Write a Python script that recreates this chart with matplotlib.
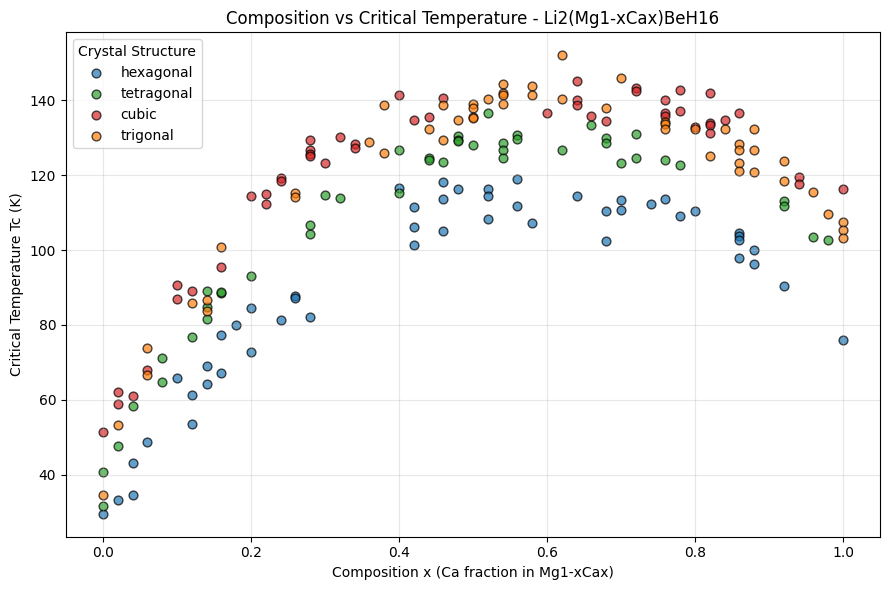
import matplotlib
matplotlib.use("Agg")
import matplotlib.pyplot as plt

hex_x = [0, 0.02, 0.04, 0.04, 0.06, 0.10, 0.12, 0.12, 0.14, 0.14, 0.16, 0.16, 0.18, 0.20, 0.20, 0.24, 0.26, 0.26, 0.28,
         0.40, 0.42, 0.42, 0.42, 0.46, 0.46, 0.46, 0.48, 0.52, 0.52, 0.52, 0.56, 0.56, 0.58, 0.64, 0.68, 0.68, 0.70, 0.70,
         0.74, 0.76, 0.78, 0.80, 0.86, 0.86, 0.86, 0.86, 0.88, 0.88, 0.92, 1.0]
hex_y = [29.6, 33.3, 34.7, 43.2, 48.8, 65.8, 53.6, 61.3, 64.3, 69.1, 67.1, 77.2, 79.9, 72.7, 84.4, 81.2, 87.7, 87.1, 82.0,
         116.5, 111.5, 106.1, 101.3, 118.1, 113.6, 105.1, 116.4, 116.2, 114.4, 108.2, 118.9, 111.7, 107.2, 114.4, 110.4, 102.4, 113.3, 110.8,
         112.4, 113.6, 109.1, 110.3, 104.6, 103.7, 102.8, 98.0, 99.9, 96.3, 90.4, 76.0]

tet_x = [0, 0, 0.02, 0.04, 0.08, 0.08, 0.12, 0.14, 0.14, 0.14, 0.16, 0.16, 0.20, 0.28, 0.28, 0.30, 0.32, 0.40, 0.40,
         0.44, 0.44, 0.46, 0.48, 0.48, 0.48, 0.50, 0.52, 0.54, 0.54, 0.54, 0.56, 0.56, 0.62, 0.66, 0.68, 0.68, 0.70,
         0.72, 0.72, 0.76, 0.78, 0.92, 0.92, 0.96, 0.98]
tet_y = [31.7, 40.7, 47.7, 58.4, 64.7, 71.2, 76.8, 81.5, 84.7, 89.1, 88.4, 88.8, 93.2, 104.2, 106.6, 114.6, 113.9, 126.6, 115.2,
         124.5, 124.0, 123.4, 130.5, 129.5, 129.0, 128.0, 136.5, 128.6, 126.7, 124.7, 130.7, 129.6, 126.7, 133.5, 129.9, 128.7, 123.1,
         130.9, 124.5, 124.0, 122.8, 113.1, 111.8, 103.5, 102.7]

cub_x = [0, 0.02, 0.02, 0.04, 0.06, 0.10, 0.10, 0.12, 0.16, 0.20, 0.22, 0.22, 0.24, 0.24, 0.28, 0.28, 0.28, 0.28, 0.30,
         0.32, 0.34, 0.34, 0.40, 0.42, 0.44, 0.46, 0.60, 0.64, 0.64, 0.64, 0.66, 0.68, 0.72, 0.72, 0.76, 0.76, 0.76,
         0.78, 0.78, 0.80, 0.82, 0.82, 0.82, 0.82, 0.84, 0.86, 0.94, 0.94, 1.0]
cub_y = [51.3, 58.9, 62.0, 61.1, 68.0, 86.8, 90.7, 89.1, 95.4, 114.3, 114.9, 112.3, 119.2, 118.5, 129.5, 126.7, 125.6, 125.2, 123.2,
         130.1, 128.3, 127.2, 141.3, 134.8, 135.4, 140.5, 136.5, 145.0, 140.0, 138.7, 135.7, 134.4, 143.3, 142.4, 140.0, 136.6, 135.9,
         142.8, 137.2, 132.9, 141.8, 134.0, 133.4, 131.3, 134.8, 136.5, 119.4, 117.5, 116.3]

tri_x = [0, 0.02, 0.06, 0.06, 0.12, 0.14, 0.14, 0.16, 0.26, 0.26, 0.36, 0.38, 0.38, 0.44, 0.46, 0.46, 0.48, 0.50, 0.50,
         0.50, 0.50, 0.52, 0.54, 0.54, 0.54, 0.54, 0.58, 0.58, 0.62, 0.62, 0.68, 0.70, 0.76, 0.76, 0.76, 0.80, 0.82,
         0.84, 0.86, 0.86, 0.86, 0.86, 0.88, 0.88, 0.88, 0.92, 0.92, 0.96, 0.98, 1.0, 1.0, 1.0]
tri_y = [34.6, 53.3, 66.6, 73.9, 85.9, 86.7, 83.6, 100.8, 115.3, 114.1, 128.8, 138.6, 125.9, 132.4, 138.6, 129.3, 134.7, 139.1, 137.8,
         135.6, 135.2, 140.4, 144.3, 141.8, 141.3, 139.1, 143.7, 141.5, 152.0, 140.4, 137.8, 145.9, 134.3, 133.6, 132.4, 132.2, 125.0,
         132.2, 128.3, 126.7, 123.2, 121.0, 132.2, 126.7, 120.8, 123.7, 118.4, 115.4, 109.6, 107.4, 105.3, 103.1]

series = [("hexagonal", hex_x, hex_y), ("tetragonal", tet_x, tet_y),
          ("cubic", cub_x, cub_y), ("trigonal", tri_x, tri_y)]
colors = ["#1f77b4", "#2ca02c", "#d62728", "#ff7f0e"]

fig, ax = plt.subplots(figsize=(8.89, 5.9), dpi=100)
for (name, xs, ys), c in zip(series, colors):
    ax.scatter(xs, ys, s=40, c=c, alpha=0.7, edgecolors="black", linewidths=1, label=name)

ax.set_title("Composition vs Critical Temperature - Li2(Mg1-xCax)BeH16")
ax.set_xlabel("Composition x (Ca fraction in Mg1-xCax)")
ax.set_ylabel("Critical Temperature Tc (K)")
ax.grid(True, alpha=0.3)
ax.legend(title="Crystal Structure", loc="upper left")
fig.subplots_adjust(left=66/889, right=880/889, top=1-32.3/590, bottom=1-536.7/590)
fig.savefig("out.png")
